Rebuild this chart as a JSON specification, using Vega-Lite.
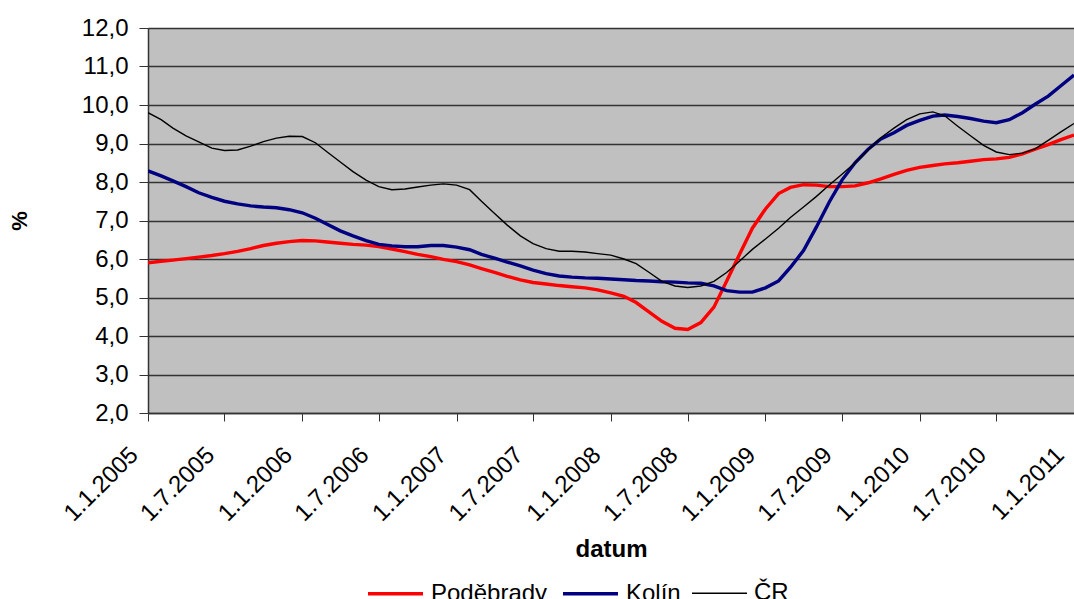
{
  "$schema": "https://vega.github.io/schema/vega-lite/v6.json",
  "autosize": "none",
  "width": 926,
  "height": 385,
  "padding": {"left": 148, "top": 28, "right": 0, "bottom": 186},
  "background": "#FFFFFF",
  "config": {
    "view": {"fill": "#C0C0C0", "stroke": null},
    "font": "Liberation Sans"
  },
  "data": {
    "values": [
      {"d": "2005/01/01", "Poděbrady": 5.90, "Kolín": 8.29, "ČR": 9.80},
      {"d": "2005/02/01", "Poděbrady": 5.94, "Kolín": 8.16, "ČR": 9.62},
      {"d": "2005/03/01", "Poděbrady": 5.97, "Kolín": 8.03, "ČR": 9.40},
      {"d": "2005/04/01", "Poděbrady": 6.01, "Kolín": 7.88, "ČR": 9.20},
      {"d": "2005/05/01", "Poděbrady": 6.05, "Kolín": 7.72, "ČR": 9.04},
      {"d": "2005/06/01", "Poděbrady": 6.09, "Kolín": 7.60, "ČR": 8.88},
      {"d": "2005/07/01", "Poděbrady": 6.14, "Kolín": 7.50, "ČR": 8.82},
      {"d": "2005/08/01", "Poděbrady": 6.20, "Kolín": 7.43, "ČR": 8.83},
      {"d": "2005/09/01", "Poděbrady": 6.27, "Kolín": 7.38, "ČR": 8.93},
      {"d": "2005/10/01", "Poděbrady": 6.35, "Kolín": 7.35, "ČR": 9.05},
      {"d": "2005/11/01", "Poděbrady": 6.41, "Kolín": 7.33, "ČR": 9.14},
      {"d": "2005/12/01", "Poděbrady": 6.45, "Kolín": 7.28, "ČR": 9.19},
      {"d": "2006/01/01", "Poděbrady": 6.48, "Kolín": 7.20, "ČR": 9.18},
      {"d": "2006/02/01", "Poděbrady": 6.47, "Kolín": 7.06, "ČR": 9.02},
      {"d": "2006/03/01", "Poděbrady": 6.44, "Kolín": 6.90, "ČR": 8.78},
      {"d": "2006/04/01", "Poděbrady": 6.41, "Kolín": 6.73, "ČR": 8.52},
      {"d": "2006/05/01", "Poděbrady": 6.38, "Kolín": 6.60, "ČR": 8.27},
      {"d": "2006/06/01", "Poděbrady": 6.36, "Kolín": 6.48, "ČR": 8.05},
      {"d": "2006/07/01", "Poděbrady": 6.32, "Kolín": 6.38, "ČR": 7.88},
      {"d": "2006/08/01", "Poděbrady": 6.26, "Kolín": 6.34, "ČR": 7.80},
      {"d": "2006/09/01", "Poděbrady": 6.19, "Kolín": 6.32, "ČR": 7.82},
      {"d": "2006/10/01", "Poděbrady": 6.12, "Kolín": 6.32, "ČR": 7.87},
      {"d": "2006/11/01", "Poděbrady": 6.06, "Kolín": 6.35, "ČR": 7.92},
      {"d": "2006/12/01", "Poděbrady": 5.99, "Kolín": 6.35, "ČR": 7.95},
      {"d": "2007/01/01", "Poděbrady": 5.93, "Kolín": 6.31, "ČR": 7.92},
      {"d": "2007/02/01", "Poděbrady": 5.85, "Kolín": 6.24, "ČR": 7.80},
      {"d": "2007/03/01", "Poděbrady": 5.75, "Kolín": 6.12, "ČR": 7.50},
      {"d": "2007/04/01", "Poděbrady": 5.65, "Kolín": 6.02, "ČR": 7.18},
      {"d": "2007/05/01", "Poděbrady": 5.55, "Kolín": 5.92, "ČR": 6.88},
      {"d": "2007/06/01", "Poděbrady": 5.46, "Kolín": 5.82, "ČR": 6.60},
      {"d": "2007/07/01", "Poděbrady": 5.39, "Kolín": 5.71, "ČR": 6.40},
      {"d": "2007/08/01", "Poděbrady": 5.35, "Kolín": 5.62, "ČR": 6.27},
      {"d": "2007/09/01", "Poděbrady": 5.31, "Kolín": 5.56, "ČR": 6.20},
      {"d": "2007/10/01", "Poděbrady": 5.28, "Kolín": 5.53, "ČR": 6.20},
      {"d": "2007/11/01", "Poděbrady": 5.25, "Kolín": 5.51, "ČR": 6.18},
      {"d": "2007/12/01", "Poděbrady": 5.20, "Kolín": 5.50, "ČR": 6.14},
      {"d": "2008/01/01", "Poděbrady": 5.12, "Kolín": 5.48, "ČR": 6.10},
      {"d": "2008/02/01", "Poděbrady": 5.03, "Kolín": 5.46, "ČR": 6.00},
      {"d": "2008/03/01", "Poděbrady": 4.87, "Kolín": 5.44, "ČR": 5.88},
      {"d": "2008/04/01", "Poděbrady": 4.62, "Kolín": 5.43, "ČR": 5.65},
      {"d": "2008/05/01", "Poděbrady": 4.38, "Kolín": 5.41, "ČR": 5.42},
      {"d": "2008/06/01", "Poděbrady": 4.20, "Kolín": 5.40, "ČR": 5.30},
      {"d": "2008/07/01", "Poděbrady": 4.17, "Kolín": 5.38, "ČR": 5.26},
      {"d": "2008/08/01", "Poděbrady": 4.35, "Kolín": 5.37, "ČR": 5.30},
      {"d": "2008/09/01", "Poděbrady": 4.75, "Kolín": 5.30, "ČR": 5.42},
      {"d": "2008/10/01", "Poděbrady": 5.42, "Kolín": 5.18, "ČR": 5.65},
      {"d": "2008/11/01", "Poděbrady": 6.13, "Kolín": 5.14, "ČR": 5.95},
      {"d": "2008/12/01", "Poděbrady": 6.80, "Kolín": 5.14, "ČR": 6.25},
      {"d": "2009/01/01", "Poděbrady": 7.30, "Kolín": 5.25, "ČR": 6.52},
      {"d": "2009/02/01", "Poděbrady": 7.70, "Kolín": 5.43, "ČR": 6.80},
      {"d": "2009/03/01", "Poděbrady": 7.86, "Kolín": 5.78, "ČR": 7.08},
      {"d": "2009/04/01", "Poděbrady": 7.93, "Kolín": 6.22, "ČR": 7.35},
      {"d": "2009/05/01", "Poděbrady": 7.92, "Kolín": 6.82, "ČR": 7.62},
      {"d": "2009/06/01", "Poděbrady": 7.88, "Kolín": 7.48, "ČR": 7.92},
      {"d": "2009/07/01", "Poděbrady": 7.88, "Kolín": 8.05, "ČR": 8.20},
      {"d": "2009/08/01", "Poděbrady": 7.90, "Kolín": 8.50, "ČR": 8.50},
      {"d": "2009/09/01", "Poděbrady": 7.98, "Kolín": 8.85, "ČR": 8.83},
      {"d": "2009/10/01", "Poděbrady": 8.08, "Kolín": 9.12, "ČR": 9.15},
      {"d": "2009/11/01", "Poděbrady": 8.20, "Kolín": 9.28, "ČR": 9.40},
      {"d": "2009/12/01", "Poděbrady": 8.30, "Kolín": 9.47, "ČR": 9.62},
      {"d": "2010/01/01", "Poděbrady": 8.38, "Kolín": 9.60, "ČR": 9.77},
      {"d": "2010/02/01", "Poděbrady": 8.43, "Kolín": 9.71, "ČR": 9.82},
      {"d": "2010/03/01", "Poděbrady": 8.47, "Kolín": 9.74, "ČR": 9.72},
      {"d": "2010/04/01", "Poděbrady": 8.50, "Kolín": 9.70, "ČR": 9.45},
      {"d": "2010/05/01", "Poděbrady": 8.54, "Kolín": 9.65, "ČR": 9.20},
      {"d": "2010/06/01", "Poděbrady": 8.58, "Kolín": 9.58, "ČR": 8.95},
      {"d": "2010/07/01", "Poděbrady": 8.60, "Kolín": 9.54, "ČR": 8.78},
      {"d": "2010/08/01", "Poděbrady": 8.64, "Kolín": 9.62, "ČR": 8.71},
      {"d": "2010/09/01", "Poděbrady": 8.73, "Kolín": 9.80, "ČR": 8.75},
      {"d": "2010/10/01", "Poděbrady": 8.85, "Kolín": 10.02, "ČR": 8.86},
      {"d": "2010/11/01", "Poděbrady": 8.97, "Kolín": 10.23, "ČR": 9.08},
      {"d": "2010/12/01", "Poděbrady": 9.10, "Kolín": 10.50, "ČR": 9.30},
      {"d": "2011/01/01", "Poděbrady": 9.22, "Kolín": 10.78, "ČR": 9.52}
    ]
  },
  "transform": [
    {"fold": ["Poděbrady", "Kolín", "ČR"], "as": ["serie", "hodnota"]}
  ],
  "mark": {"type": "line", "clip": true},
  "encoding": {
    "x": {
      "field": "d",
      "type": "temporal",
      "title": "datum",
      "scale": {"domain": [{"year": 2005, "month": 1, "date": 1}, {"year": 2011, "month": 1, "date": 1}]},
      "axis": {
        "values": [
          {"year": 2005, "month": 1, "date": 1}, {"year": 2005, "month": 7, "date": 1},
          {"year": 2006, "month": 1, "date": 1}, {"year": 2006, "month": 7, "date": 1},
          {"year": 2007, "month": 1, "date": 1}, {"year": 2007, "month": 7, "date": 1},
          {"year": 2008, "month": 1, "date": 1}, {"year": 2008, "month": 7, "date": 1},
          {"year": 2009, "month": 1, "date": 1}, {"year": 2009, "month": 7, "date": 1},
          {"year": 2010, "month": 1, "date": 1}, {"year": 2010, "month": 7, "date": 1},
          {"year": 2011, "month": 1, "date": 1}
        ],
        "format": "%-d.%-m.%Y",
        "labelAngle": -45,
        "labelAlign": "right",
        "labelBaseline": "middle",
        "labelFontSize": 24,
        "labelColor": "#000000",
        "labelPadding": 30,
        "labelOffset": -14,
        "labelOverlap": false,
        "labelFlush": false,
        "labelBound": false,
        "grid": false,
        "tickSize": 8,
        "tickColor": "#333333",
        "domainColor": "#333333",
        "domainWidth": 1.5,
        "titleFontSize": 24,
        "titleFontWeight": "bold",
        "titleColor": "#000000",
        "titlePadding": 12
      }
    },
    "y": {
      "field": "hodnota",
      "type": "quantitative",
      "title": "%",
      "scale": {"domain": [2, 12], "nice": false, "zero": false},
      "axis": {
        "values": [2, 3, 4, 5, 6, 7, 8, 9, 10, 11, 12],
        "labelExpr": "replace(format(datum.value, '.1f'), '.', ',')",
        "labelFontSize": 24,
        "labelColor": "#000000",
        "labelPadding": 11,
        "tickSize": 9,
        "tickColor": "#333333",
        "domainColor": "#333333",
        "domainWidth": 1.5,
        "gridColor": "#333333",
        "gridWidth": 1.3,
        "titleFontSize": 22,
        "titleFontWeight": "bold",
        "titleColor": "#000000",
        "titlePadding": 50
      }
    },
    "color": {
      "field": "serie",
      "type": "nominal",
      "sort": ["Poděbrady", "Kolín", "ČR"],
      "scale": {"domain": ["Poděbrady", "Kolín", "ČR"], "range": ["#FF0000", "#000080", "#000000"]},
      "legend": {
        "title": null,
        "orient": "none",
        "direction": "horizontal",
        "legendX": 218,
        "legendY": 536,
        "symbolType": "stroke",
        "symbolSize": 3025,
        "labelFontSize": 24,
        "labelColor": "#000000",
        "labelOffset": 6,
        "columnPadding": 8
      }
    },
    "strokeWidth": {
      "field": "serie",
      "type": "nominal",
      "sort": ["Poděbrady", "Kolín", "ČR"],
      "scale": {"type": "ordinal", "domain": ["Poděbrady", "Kolín", "ČR"], "range": [3.4, 3.4, 1.4]},
      "legend": {
        "title": null,
        "orient": "none",
        "direction": "horizontal",
        "legendX": 218,
        "legendY": 536,
        "symbolType": "stroke",
        "symbolSize": 3025,
        "labelFontSize": 24,
        "labelColor": "#000000",
        "labelOffset": 6,
        "columnPadding": 8
      }
    }
  }
}
